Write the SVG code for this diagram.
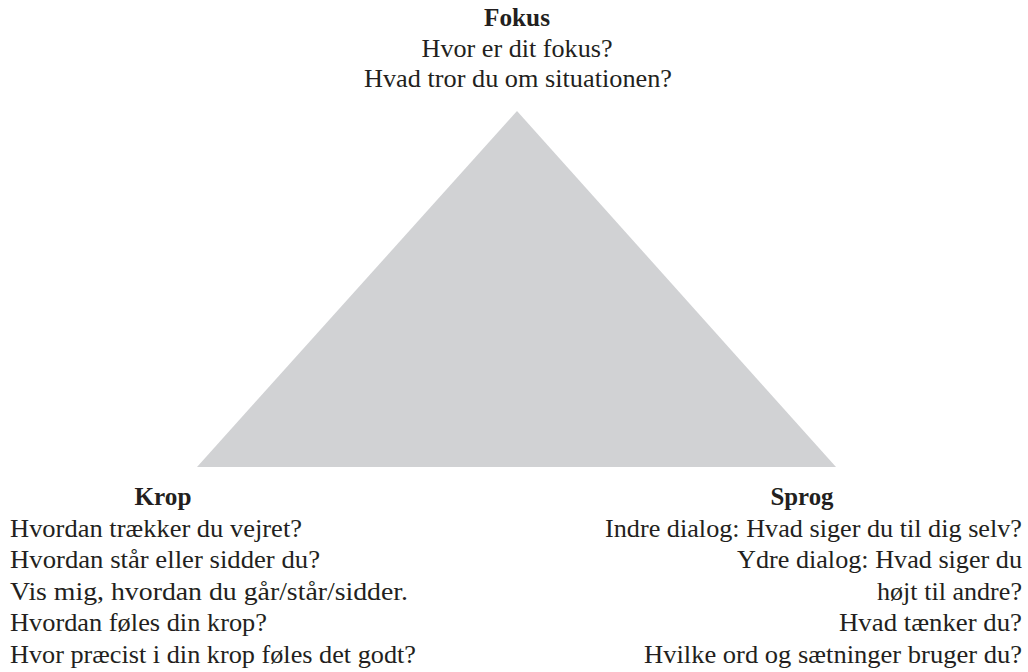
<svg xmlns="http://www.w3.org/2000/svg" width="1028" height="672" viewBox="0 0 1028 672">
<style>
text{font-family:"Liberation Serif","DejaVu Serif",serif;font-size:24.5px;fill:#231f20}
.b{font-weight:bold}
.m{text-anchor:middle}
.e{text-anchor:end}
</style>
<rect width="1028" height="672" fill="#ffffff"/>
<g id="triangle">
<polygon points="517,111 836,467 197,467" fill="#d1d2d4"/>
</g>
<g id="fokus">
<text class="b m" x="517" y="26" textLength="66" lengthAdjust="spacingAndGlyphs">Fokus</text>
<text class="m" x="517" y="57" textLength="191" lengthAdjust="spacingAndGlyphs">Hvor er dit fokus?</text>
<text class="m" x="518" y="87" textLength="308" lengthAdjust="spacingAndGlyphs">Hvad tror du om situationen?</text>
</g>
<g id="krop">
<text class="b m" x="163" y="505" textLength="57" lengthAdjust="spacingAndGlyphs">Krop</text>
<text x="10" y="537" textLength="292" lengthAdjust="spacingAndGlyphs">Hvordan trækker du vejret?</text>
<text x="10" y="568" textLength="310" lengthAdjust="spacingAndGlyphs">Hvordan står eller sidder du?</text>
<text x="10" y="600" textLength="398" lengthAdjust="spacingAndGlyphs">Vis mig, hvordan du går/står/sidder.</text>
<text x="10" y="631" textLength="257" lengthAdjust="spacingAndGlyphs">Hvordan føles din krop?</text>
<text x="10" y="663" textLength="406" lengthAdjust="spacingAndGlyphs">Hvor præcist i din krop føles det godt?</text>
</g>
<g id="sprog">
<text class="b m" x="802" y="505" textLength="63" lengthAdjust="spacingAndGlyphs">Sprog</text>
<text class="e" x="1022" y="537" textLength="417" lengthAdjust="spacingAndGlyphs">Indre dialog: Hvad siger du til dig selv?</text>
<text class="e" x="1022" y="568" textLength="285" lengthAdjust="spacingAndGlyphs">Ydre dialog: Hvad siger du</text>
<text class="e" x="1022" y="600" textLength="145" lengthAdjust="spacingAndGlyphs">højt til andre?</text>
<text class="e" x="1022" y="631" textLength="183" lengthAdjust="spacingAndGlyphs">Hvad tænker du?</text>
<text class="e" x="1022" y="663" textLength="378" lengthAdjust="spacingAndGlyphs">Hvilke ord og sætninger bruger du?</text>
</g>
</svg>
